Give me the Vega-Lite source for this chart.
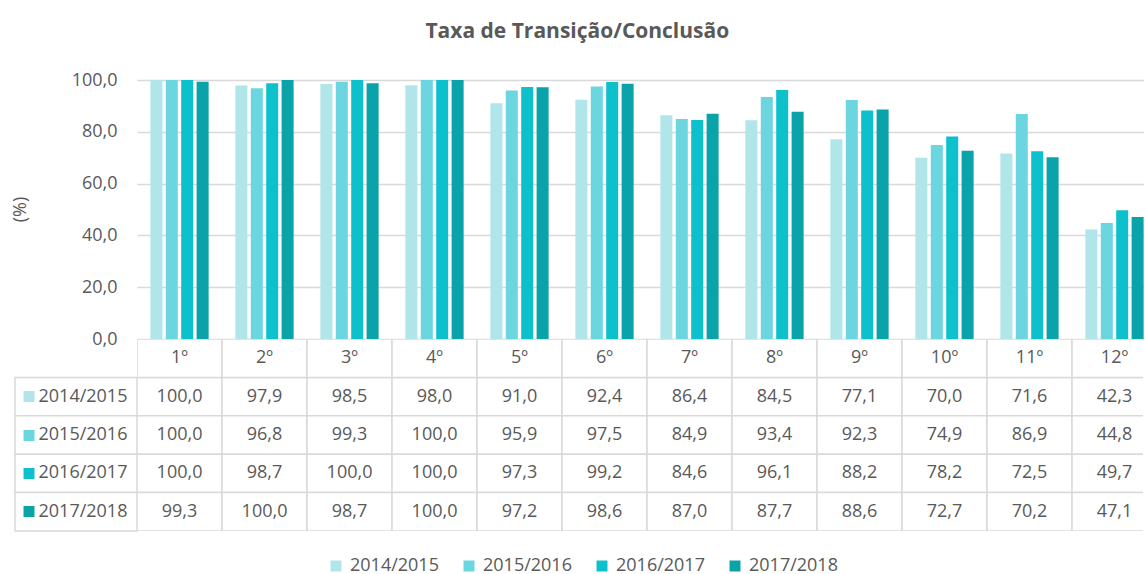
{
  "$schema": "https://vega.github.io/schema/vega-lite/v6.json",
  "padding": {"left": 10, "top": 21, "right": 0, "bottom": 0},
  "title": {"text": "Taxa de Transição/Conclusão", "fontSize": 21, "fontWeight": "bold", "color": "#595959", "anchor": "middle", "offset": 29},
  "config": {
    "font": "Open Sans",
    "view": {"stroke": null},
    "locale": {"number": {"decimal": ",", "thousands": ".", "grouping": [3], "currency": ["", " €"]}}
  },
  "datasets": {
    "valores": [
      {"grau": "1º", "serie": "2014/2015", "taxa": 100.0},
      {"grau": "1º", "serie": "2015/2016", "taxa": 100.0},
      {"grau": "1º", "serie": "2016/2017", "taxa": 100.0},
      {"grau": "1º", "serie": "2017/2018", "taxa": 99.3},
      {"grau": "2º", "serie": "2014/2015", "taxa": 97.9},
      {"grau": "2º", "serie": "2015/2016", "taxa": 96.8},
      {"grau": "2º", "serie": "2016/2017", "taxa": 98.7},
      {"grau": "2º", "serie": "2017/2018", "taxa": 100.0},
      {"grau": "3º", "serie": "2014/2015", "taxa": 98.5},
      {"grau": "3º", "serie": "2015/2016", "taxa": 99.3},
      {"grau": "3º", "serie": "2016/2017", "taxa": 100.0},
      {"grau": "3º", "serie": "2017/2018", "taxa": 98.7},
      {"grau": "4º", "serie": "2014/2015", "taxa": 98.0},
      {"grau": "4º", "serie": "2015/2016", "taxa": 100.0},
      {"grau": "4º", "serie": "2016/2017", "taxa": 100.0},
      {"grau": "4º", "serie": "2017/2018", "taxa": 100.0},
      {"grau": "5º", "serie": "2014/2015", "taxa": 91.0},
      {"grau": "5º", "serie": "2015/2016", "taxa": 95.9},
      {"grau": "5º", "serie": "2016/2017", "taxa": 97.3},
      {"grau": "5º", "serie": "2017/2018", "taxa": 97.2},
      {"grau": "6º", "serie": "2014/2015", "taxa": 92.4},
      {"grau": "6º", "serie": "2015/2016", "taxa": 97.5},
      {"grau": "6º", "serie": "2016/2017", "taxa": 99.2},
      {"grau": "6º", "serie": "2017/2018", "taxa": 98.6},
      {"grau": "7º", "serie": "2014/2015", "taxa": 86.4},
      {"grau": "7º", "serie": "2015/2016", "taxa": 84.9},
      {"grau": "7º", "serie": "2016/2017", "taxa": 84.6},
      {"grau": "7º", "serie": "2017/2018", "taxa": 87.0},
      {"grau": "8º", "serie": "2014/2015", "taxa": 84.5},
      {"grau": "8º", "serie": "2015/2016", "taxa": 93.4},
      {"grau": "8º", "serie": "2016/2017", "taxa": 96.1},
      {"grau": "8º", "serie": "2017/2018", "taxa": 87.7},
      {"grau": "9º", "serie": "2014/2015", "taxa": 77.1},
      {"grau": "9º", "serie": "2015/2016", "taxa": 92.3},
      {"grau": "9º", "serie": "2016/2017", "taxa": 88.2},
      {"grau": "9º", "serie": "2017/2018", "taxa": 88.6},
      {"grau": "10º", "serie": "2014/2015", "taxa": 70.0},
      {"grau": "10º", "serie": "2015/2016", "taxa": 74.9},
      {"grau": "10º", "serie": "2016/2017", "taxa": 78.2},
      {"grau": "10º", "serie": "2017/2018", "taxa": 72.7},
      {"grau": "11º", "serie": "2014/2015", "taxa": 71.6},
      {"grau": "11º", "serie": "2015/2016", "taxa": 86.9},
      {"grau": "11º", "serie": "2016/2017", "taxa": 72.5},
      {"grau": "11º", "serie": "2017/2018", "taxa": 70.2},
      {"grau": "12º", "serie": "2014/2015", "taxa": 42.3},
      {"grau": "12º", "serie": "2015/2016", "taxa": 44.8},
      {"grau": "12º", "serie": "2016/2017", "taxa": 49.7},
      {"grau": "12º", "serie": "2017/2018", "taxa": 47.1}
    ],
    "series": [
      {"serie": "2014/2015"},
      {"serie": "2015/2016"},
      {"serie": "2016/2017"},
      {"serie": "2017/2018"}
    ],
    "graus": [
      {"grau": "1º"}, {"grau": "2º"}, {"grau": "3º"}, {"grau": "4º"},
      {"grau": "5º"}, {"grau": "6º"}, {"grau": "7º"}, {"grau": "8º"},
      {"grau": "9º"}, {"grau": "10º"}, {"grau": "11º"}, {"grau": "12º"}
    ]
  },
  "columns": 2,
  "spacing": 0,
  "bounds": "flush",
  "concat": [
    {
      "width": 122,
      "height": 259,
      "data": {"values": [{}]},
      "mark": {"type": "text", "text": ""},
      "encoding": {}
    },
    {
      "width": 1006,
      "height": 259,
      "data": {"name": "valores"},
      "mark": {"type": "bar"},
      "encoding": {
        "x": {
          "field": "grau", "type": "nominal",
          "sort": ["1º", "2º", "3º", "4º", "5º", "6º", "7º", "8º", "9º", "10º", "11º", "12º"],
          "scale": {"domain": ["1º", "2º", "3º", "4º", "5º", "6º", "7º", "8º", "9º", "10º", "11º", "12º"], "range": [0, 1020], "paddingInner": 0.275, "paddingOuter": 0.1375},
          "axis": null
        },
        "xOffset": {
          "field": "serie", "type": "nominal",
          "scale": {"domain": ["2014/2015", "2015/2016", "2016/2017", "2017/2018"], "paddingInner": 0.22, "paddingOuter": 0.11}
        },
        "y": {
          "field": "taxa", "type": "quantitative",
          "scale": {"domain": [0, 100]},
          "axis": {
            "title": "(%)", "values": [0, 20, 40, 60, 80, 100], "format": ".1f",
            "grid": true, "gridColor": "#d9d9d9", "gridWidth": 1.3,
            "domain": false, "ticks": false, "labelPadding": 20,
            "labelFontSize": 18, "labelColor": "#595959",
            "titleFontSize": 18, "titleColor": "#595959", "titleFontWeight": "normal",
            "titleX": -108, "titleY": 129, "titleAngle": -90, "titleBaseline": "bottom"
          }
        },
        "color": {
          "field": "serie", "type": "nominal",
          "scale": {"domain": ["2014/2015", "2015/2016", "2016/2017", "2017/2018"], "range": ["#B0E5EA", "#6BD6E0", "#0DC1CC", "#0AA3A9"]},
          "legend": {
            "title": null, "orient": "none", "legendX": 312, "legendY": 477,
            "direction": "horizontal", "symbolType": "square", "symbolSize": 121,
            "symbolStrokeWidth": 0, "labelFontSize": 18, "labelColor": "#595959",
            "columnPadding": 21, "labelOffset": 5
          }
        }
      }
    },
    {
      "width": 122,
      "height": 192,
      "data": {"name": "series"},
      "mark": {"type": "rect", "fill": "white", "stroke": "#d9d9d9", "strokeWidth": 1.5},
      "encoding": {
        "y": {
          "field": "serie", "type": "nominal",
          "scale": {"domain": ["header", "2014/2015", "2015/2016", "2016/2017", "2017/2018"], "paddingInner": 0, "paddingOuter": 0},
          "axis": {
            "values": ["2014/2015", "2015/2016", "2016/2017", "2017/2018"],
            "title": null, "domain": false, "offset": -19, "tickSize": 11, "tickWidth": 11,
            "tickColor": {
              "condition": [
                {"test": "datum.value === '2014/2015'", "value": "#B0E5EA"},
                {"test": "datum.value === '2015/2016'", "value": "#6BD6E0"},
                {"test": "datum.value === '2016/2017'", "value": "#0DC1CC"}
              ],
              "value": "#0AA3A9"
            },
            "labelAlign": "left", "labelPadding": -15, "labelFontSize": 18, "labelColor": "#595959",
            "zindex": 1
          }
        }
      }
    },
    {
      "width": 1006,
      "height": 192,
      "encoding": {
        "x": {
          "field": "grau", "type": "nominal",
          "sort": ["1º", "2º", "3º", "4º", "5º", "6º", "7º", "8º", "9º", "10º", "11º", "12º"],
          "scale": {"domain": ["1º", "2º", "3º", "4º", "5º", "6º", "7º", "8º", "9º", "10º", "11º", "12º"], "range": [0, 1020], "paddingInner": 0, "paddingOuter": 0},
          "axis": null
        }
      },
      "layer": [
        {
          "data": {"name": "valores"},
          "mark": {"type": "rect", "fill": "white", "stroke": "#d9d9d9", "strokeWidth": 1.5, "clip": true},
          "encoding": {
            "y": {
              "field": "serie", "type": "nominal",
              "scale": {"domain": ["header", "2014/2015", "2015/2016", "2016/2017", "2017/2018"], "paddingInner": 0, "paddingOuter": 0},
              "axis": null
            }
          }
        },
        {
          "data": {"name": "graus"},
          "mark": {"type": "rect", "fill": "white", "stroke": "#d9d9d9", "strokeWidth": 1.5, "clip": true},
          "encoding": {"y": {"datum": "header", "type": "nominal"}}
        },
        {
          "data": {"name": "valores"},
          "mark": {"type": "text", "fontSize": 18, "color": "#595959"},
          "encoding": {
            "y": {"field": "serie", "type": "nominal"},
            "text": {"field": "taxa", "type": "quantitative", "format": ".1f"}
          }
        },
        {
          "data": {"name": "graus"},
          "mark": {"type": "text", "fontSize": 18, "color": "#595959"},
          "encoding": {
            "y": {"datum": "header", "type": "nominal"},
            "text": {"field": "grau", "type": "nominal"}
          }
        }
      ]
    }
  ]
}
